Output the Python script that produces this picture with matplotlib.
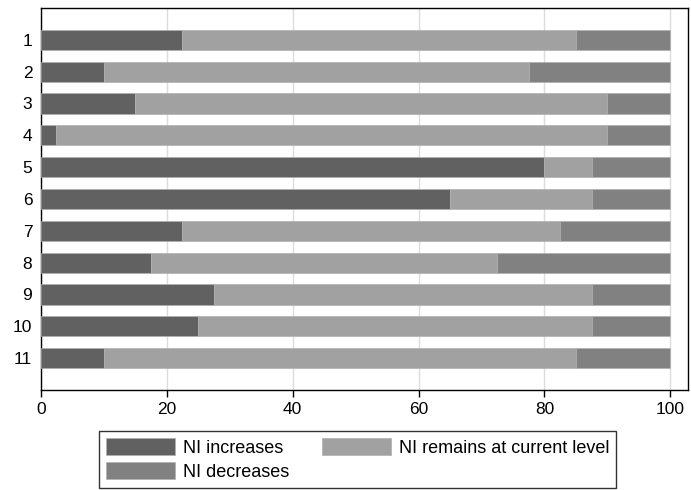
import matplotlib
matplotlib.use("Agg")
import matplotlib.pyplot as plt
import numpy as np

plt.rcParams['font.family'] = ['Liberation Sans', 'DejaVu Sans']

categories = ["1", "2", "3", "4", "5", "6", "7", "8", "9", "10", "11"]
ni_increases = [22.5, 10, 15, 2.5, 80, 65, 22.5, 17.5, 27.5, 25, 10]
ni_remains = [62.5, 67.5, 75, 87.5, 7.5, 22.5, 60, 55, 60, 62.5, 75]
ni_decreases = [15, 22.5, 10, 10, 12.5, 12.5, 17.5, 27.5, 12.5, 12.5, 15]
series_labels = ["NI increases", "NI remains at current level", "NI decreases"]
xticks = [0, 20, 40, 60, 80, 100]

colors = ["#616161", "#a1a1a1", "#818181"]

fig = plt.figure(figsize=(6.91, 4.90), dpi=100)
ax = fig.add_axes([0.0589, 0.2041, 0.9957 - 0.0589, 0.9837 - 0.2041])

y = np.arange(1, len(categories) + 1)
left = np.zeros(len(categories))
handles = []
for vals, c, lab in zip([ni_increases, ni_remains, ni_decreases], colors, series_labels):
    h = ax.barh(y, vals, left=left, height=0.63, color=c, edgecolor="#b0b0b0",
                linewidth=0.5, label=lab, zorder=3)
    handles.append(h)
    left = left + np.array(vals)

ax.set_xlim(0, 102.8)
ax.set_ylim(12, 0)
ax.set_yticks(y)
ax.set_yticklabels(categories)
ax.set_xticks(xticks)
ax.set_xticklabels([str(t) for t in xticks])
ax.xaxis.grid(True, color="#dcdcdc", linewidth=1.0, zorder=0)
ax.set_axisbelow(True)
ax.tick_params(axis='y', length=0, pad=6, labelsize=12.5)
ax.tick_params(axis='x', length=5, width=1, pad=4, labelsize=12.5, direction='out')
for s in ax.spines.values():
    s.set_color("#000000")
    s.set_linewidth(1.0)

# legend filled column-wise: column 1 = increases, decreases; column 2 = remains
order = [0, 2, 1]
leg = fig.legend(handles=[handles[i] for i in order],
                 labels=[series_labels[i] for i in order], ncol=2,
                 loc='upper left', bbox_to_anchor=(99 / 691, 1 - 431 / 490),
                 fontsize=13, frameon=True, fancybox=False, shadow=False,
                 handlelength=3.82, handleheight=1.07, handletextpad=0.45,
                 columnspacing=1.77, labelspacing=0.3, borderpad=0.4,
                 borderaxespad=0)
leg.get_frame().set_edgecolor("#000000")
leg.get_frame().set_linewidth(1.0)

fig.savefig("out.png", dpi=100)
